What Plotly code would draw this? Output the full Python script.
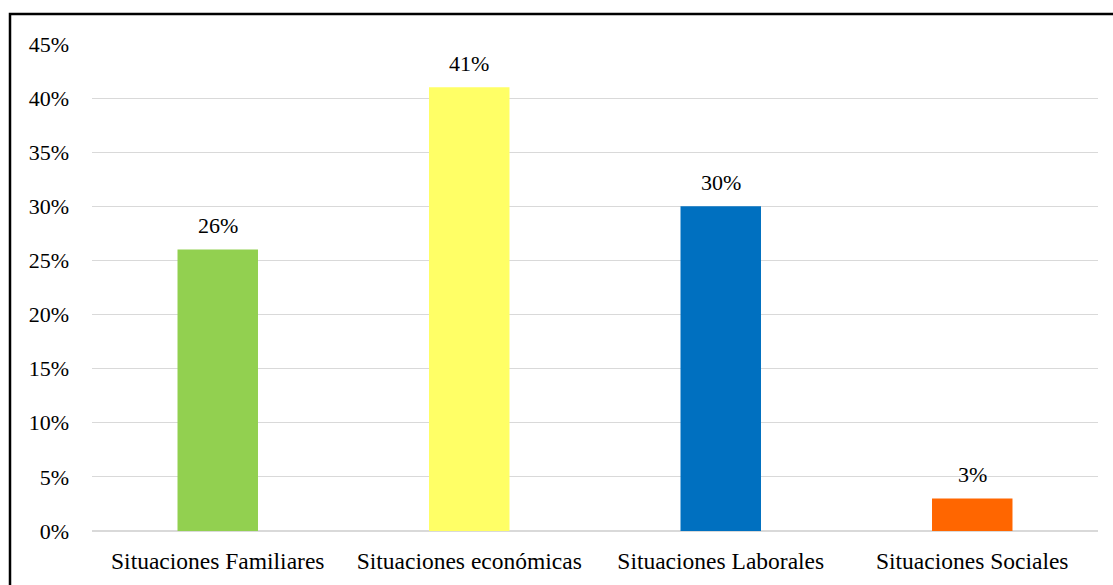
import plotly.graph_objects as go

categories = ["Situaciones Familiares", "Situaciones económicas", "Situaciones Laborales", "Situaciones Sociales"]
values = [26, 41, 30, 3]
colors = ["#92D050", "#FFFF66", "#0070C0", "#FF6600"]
tick_vals = [0, 5, 10, 15, 20, 25, 30, 35, 40, 45]
tick_text = [f"{v}%" for v in tick_vals]

font_family = "Liberation Serif, Times New Roman, serif"
FS = 22
FSX = 23.5

fig = go.Figure()
fig.add_trace(go.Bar(
    x=categories, y=values, marker=dict(color=colors, line=dict(width=0)),
    hoverinfo="skip", showlegend=False,
))

for c, v in zip(categories, values):
    fig.add_annotation(x=c, y=v, text=f"{v}%", showarrow=False, yanchor="middle",
                       yshift=24, font=dict(family=font_family, size=FS, color="#000000"))

fig.update_layout(
    width=1113, height=585,
    margin=dict(l=92, r=15, t=44, b=54),
    paper_bgcolor="white", plot_bgcolor="white",
    bargap=0.68,
    font=dict(family=font_family, size=FS, color="#000000"),
    xaxis=dict(showgrid=False, showline=False, ticks="", tickfont=dict(size=FSX), ticklabelstandoff=13),
    yaxis=dict(range=[0, 45], tickvals=tick_vals, ticktext=tick_text, showgrid=True,
               gridcolor="#D9D9D9", gridwidth=1, zeroline=True, zerolinecolor="#D9D9D9",
               showline=False, ticks="", tickfont=dict(size=FS), ticklabelstandoff=22),
)

# Figure border (frame around chart)
pw = 1113 - 92 - 15
ph = 585 - 44 - 54
fig.add_shape(type="rect", xref="paper", yref="paper",
              x0=(10 - 92) / pw, x1=(1125 - 92) / pw,
              y0=(531 - 600) / ph, y1=(531 - 14) / ph,
              line=dict(color="black", width=2.5), fillcolor="rgba(0,0,0,0)", layer="above")

fig.write_html("out.html", config={"displayModeBar": False},
               post_script="document.body.style.margin='0';document.body.style.overflow='hidden';")
